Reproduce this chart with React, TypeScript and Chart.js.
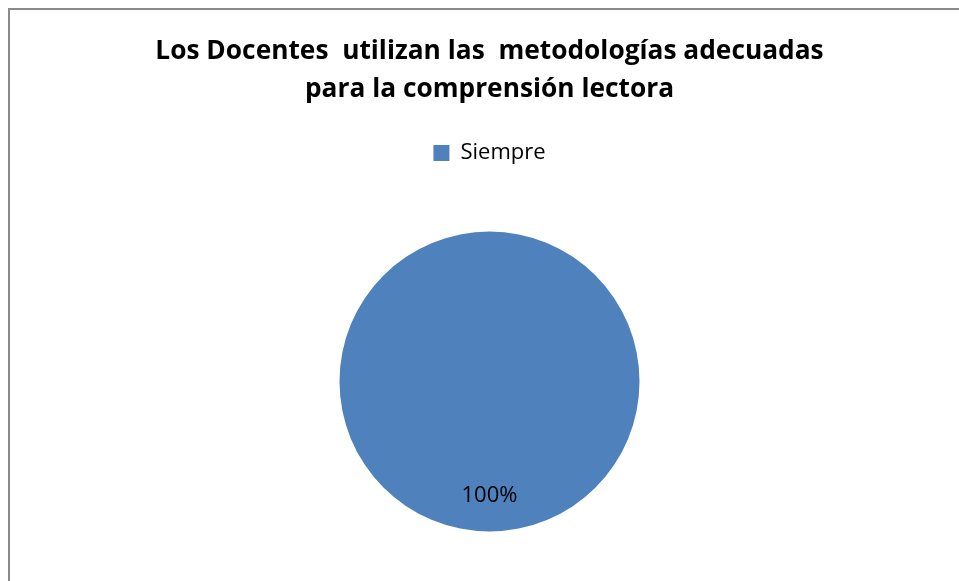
import React, { useEffect, useRef } from "react";
import { Chart, registerables } from "chart.js";

Chart.register(...registerables);

const titleLines = ["Los Docentes  utilizan las  metodologías adecuadas", "para la comprensión lectora"];
const categories = ["Siempre"];
const values = [100];
const percentLabels = ["100%"];
const colors = ["#4F81BD"];

const labelPlugin = {
  id: "pieLabels",
  afterDatasetsDraw(chart: any) {
    const ctx = chart.ctx;
    const meta = chart.getDatasetMeta(0);
    meta.data.forEach((arc: any, i: number) => {
      const p = arc.getProps(["x", "y", "startAngle", "endAngle", "outerRadius"], true);
      const mid = (p.startAngle + p.endAngle) / 2;
      const r = p.outerRadius * 0.76;
      ctx.save();
      ctx.font = "22px 'Open Sans', sans-serif";
      ctx.fillStyle = "#000";
      ctx.textAlign = "center";
      ctx.textBaseline = "middle";
      ctx.fillText(percentLabels[i], p.x + Math.cos(mid) * r, p.y + Math.sin(mid) * r);
      ctx.restore();
    });
  },
};

export default function App() {
  const ref = useRef<HTMLCanvasElement>(null);
  useEffect(() => {
    const chart = new Chart(ref.current!, {
      type: "pie",
      data: {
        labels: categories,
        datasets: [{ data: values, backgroundColor: colors, borderWidth: 0, radius: 150 }],
      },
      options: {
        animation: false,
        responsive: false,
        events: [],
        layout: { padding: { top: 14, bottom: 11, left: 0, right: 0 } },
        plugins: {
          title: {
            display: true,
            text: titleLines,
            color: "#000",
            font: { family: "'Open Sans', sans-serif", size: 26.3, weight: "bold", lineHeight: 38 / 26.3 },
            padding: { top: 19, bottom: 13 },
          },
          legend: {
            display: true,
            position: "top",
            labels: {
              color: "#000",
              font: { family: "'Open Sans', sans-serif", size: 22 },
              boxWidth: 16,
              boxHeight: 16,
              padding: 20,
            },
          },
          tooltip: { enabled: false },
        },
      },
      plugins: [labelPlugin],
    });
    return () => chart.destroy();
  }, []);
  return (
    <div style={{ position: "fixed", left: 0, top: 0, width: 959, height: 581, overflow: "hidden", background: "#fff" }}>
      <div style={{ position: "absolute", left: 8, top: 8, width: 1000, height: 700, borderLeft: "2px solid #8a8a8a", borderTop: "2px solid #8a8a8a" }} />
      <canvas ref={ref} width={959} height={600} style={{ position: "absolute", left: 10, top: 0, width: 959, height: 600 }} />
    </div>
  );
}
